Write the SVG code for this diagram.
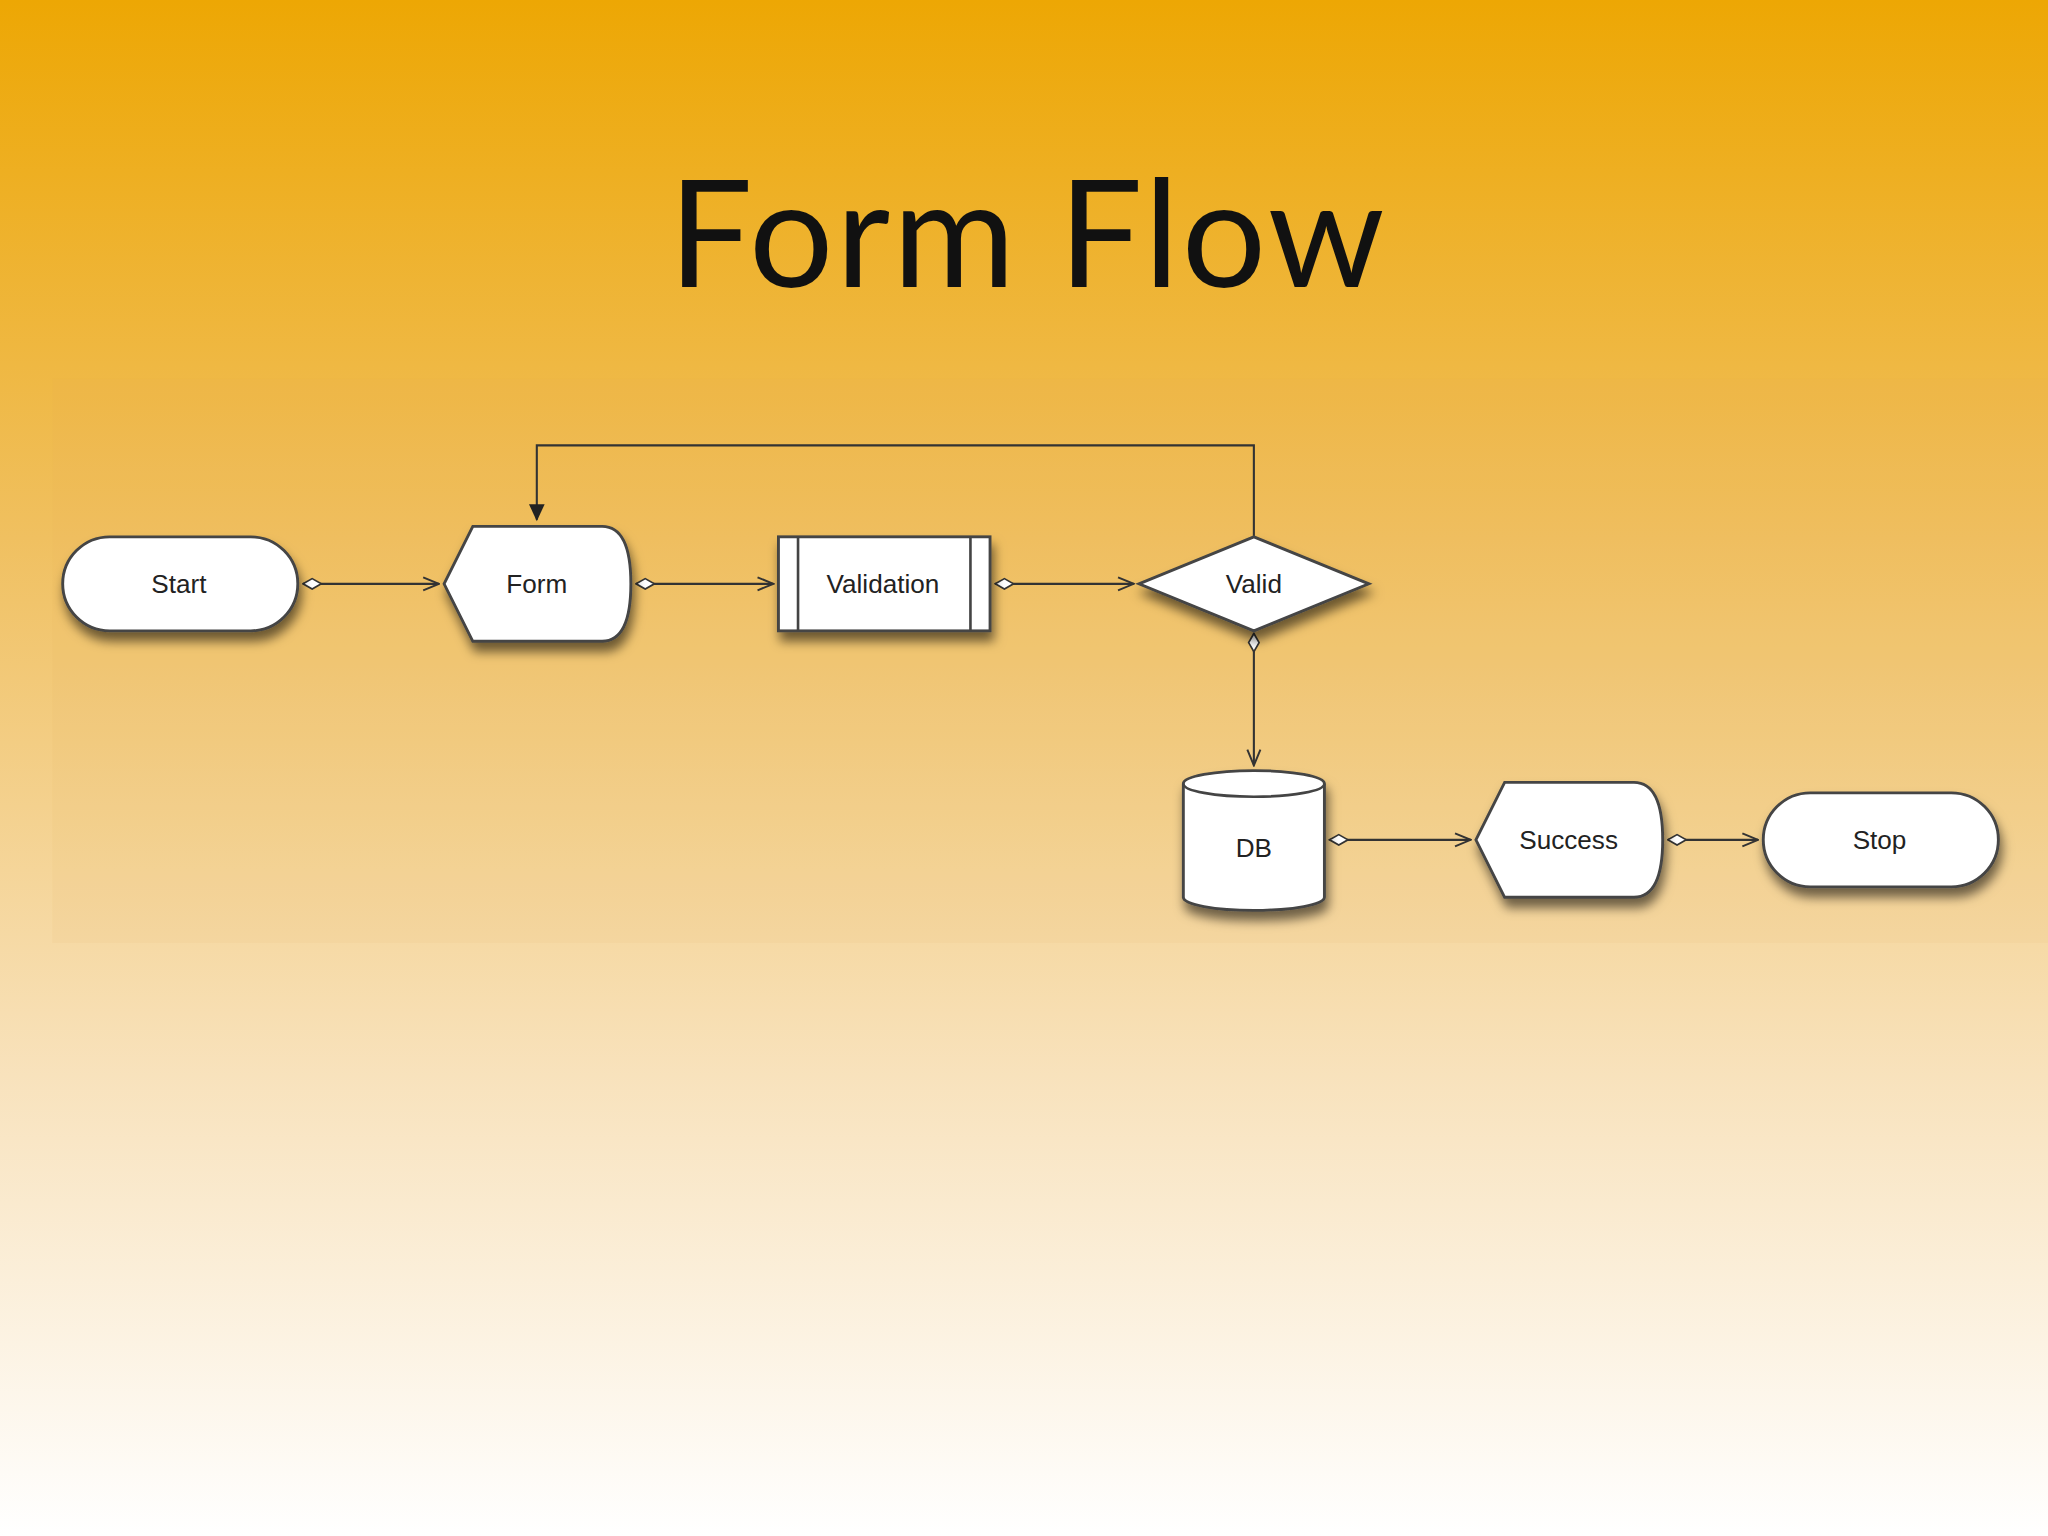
<svg xmlns="http://www.w3.org/2000/svg" width="2048" height="1536" viewBox="0 0 2048 1536">
<defs>
<linearGradient id="bg" x1="0" y1="0" x2="0" y2="1">
<stop offset="0" stop-color="#EDA704"/>
<stop offset="0.35" stop-color="#F0C060"/>
<stop offset="0.7" stop-color="#F8E2BC"/>
<stop offset="1" stop-color="#FFFFFF"/>
</linearGradient>
<filter id="sh" x="-20%" y="-20%" width="140%" height="160%">
<feDropShadow dx="2" dy="7" stdDeviation="4" flood-color="#000" flood-opacity="0.55"/>
</filter>
<marker id="dia" markerWidth="16" markerHeight="10" refX="1" refY="5" orient="auto" markerUnits="userSpaceOnUse">
<path d="M1,5 L8,1 L15,5 L8,9 Z" fill="#fff" stroke="#333" stroke-width="1.3"/>
</marker>
<marker id="arr" markerWidth="14" markerHeight="12" refX="13" refY="6" orient="auto" markerUnits="userSpaceOnUse">
<path d="M1,1 L13,6 L1,11" fill="none" stroke="#333" stroke-width="1.5"/>
</marker>
<marker id="farr" markerWidth="14" markerHeight="16" refX="12" refY="7" orient="auto" markerUnits="userSpaceOnUse">
<path d="M0,1 L13,7 L0,13 Z" fill="#222"/>
</marker>
</defs>
<style>
.n{fill:#fff;stroke:#444;stroke-width:2.2;filter:url(#sh)}
.t{font-family:"Liberation Sans",Arial,sans-serif;font-size:20px;fill:#222;text-anchor:middle}
.c{fill:none;stroke:#333;stroke-width:1.6}
</style>
<rect width="2048" height="1536" fill="url(#bg)"/>
<g transform="scale(1.30612)">
<rect x="40" y="290" width="1528" height="432" fill="#E9B05A" opacity="0.07"/>
<text x="787" y="220" font-family="Lato,'Liberation Sans',sans-serif" font-size="114" fill="#111" text-anchor="middle" letter-spacing="2">Form Flow</text>
<g id="connectors">
<path class="c" d="M232,447 L336,447" marker-start="url(#dia)" marker-end="url(#arr)"/>
<path class="c" d="M487,447 L592,447" marker-start="url(#dia)" marker-end="url(#arr)"/>
<path class="c" d="M762,447 L868,447" marker-start="url(#dia)" marker-end="url(#arr)"/>
<path class="c" d="M960,485 L960,586" marker-start="url(#dia)" marker-end="url(#arr)"/>
<path class="c" d="M960,411 L960,341 L411,341 L411,398" marker-end="url(#farr)"/>
<path class="c" d="M1018,643 L1126,643" marker-start="url(#dia)" marker-end="url(#arr)"/>
<path class="c" d="M1277,643 L1346,643" marker-start="url(#dia)" marker-end="url(#arr)"/>
</g>
<g id="start"><rect class="n" x="48" y="411" width="180" height="72" rx="36"/><text class="t" x="137" y="454">Start</text></g>
<g id="form"><path class="n" d="M340,447 L362,403 L461,403 Q483,403 483,447 Q483,491 461,491 L362,491 Z"/><text class="t" x="411" y="454">Form</text></g>
<g id="validation"><rect class="n" x="596" y="411" width="162" height="72"/><path d="M611,411 V483 M743,411 V483" stroke="#444" stroke-width="2"/><text class="t" x="676" y="454">Validation</text></g>
<g id="valid"><path class="n" d="M872,447 L960,411 L1048,447 L960,483 Z"/><text class="t" x="960" y="454">Valid</text></g>
<g id="db"><path class="n" d="M906,600 A54,10 0 0 1 1014,600 L1014,687 A54,10 0 0 1 906,687 Z"/><path d="M906,600 A54,10 0 0 0 1014,600" fill="none" stroke="#444" stroke-width="2"/><text class="t" x="960" y="656">DB</text></g>
<g id="success"><path class="n" d="M1130,643 L1152,599 L1251,599 Q1273,599 1273,643 Q1273,687 1251,687 L1152,687 Z"/><text class="t" x="1201" y="650">Success</text></g>
<g id="stop"><rect class="n" x="1350" y="607" width="180" height="72" rx="36"/><text class="t" x="1439" y="650">Stop</text></g>
</g>
</svg>
